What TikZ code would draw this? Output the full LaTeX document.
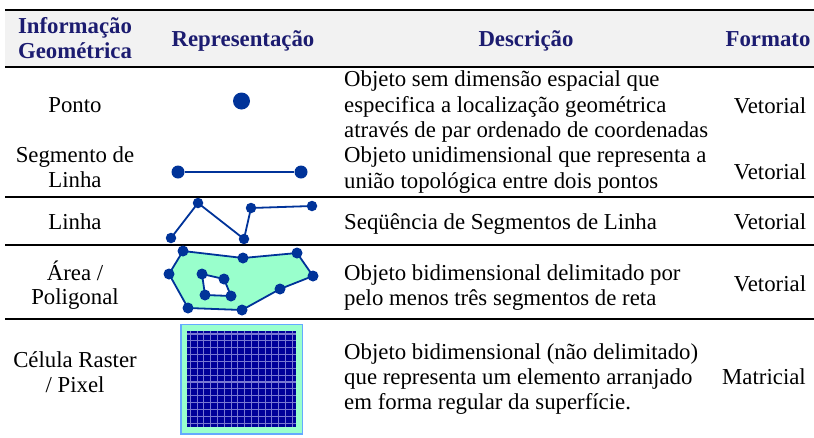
\documentclass[tikz,border=0pt]{standalone}
\usepackage{fontspec}
\setmainfont{Liberation Serif}
\definecolor{hdr}{RGB}{28,28,112}
\definecolor{dotblue}{RGB}{0,51,153}
\definecolor{mint}{RGB}{153,255,204}
\definecolor{hdrbg}{RGB}{242,242,242}
\definecolor{rasterblue}{RGB}{0,0,153}
\definecolor{gridline}{RGB}{120,120,210}
\definecolor{rasteredge}{RGB}{100,170,255}
\tikzset{
  txt/.style={inner sep=0pt, font=\fontsize{22.8}{25}\selectfont},
  hd/.style={inner sep=0pt, text=hdr, font=\fontsize{22.8}{25}\selectfont\bfseries},
  dot/.style={circle, fill=dotblue, inner sep=0pt, minimum size=#1},
  rulethick/.style={line width=2.6pt},
  rulethin/.style={line width=2pt},
  geo/.style={draw=dotblue, line width=1.8pt}
}
\begin{document}
\begin{tikzpicture}[x=1pt,y=-1pt]
\useasboundingbox (0,0) rectangle (814,437);
% header
\fill[hdrbg] (5,11) rectangle (814,66);
\draw[rulethick] (5,10) -- (814,10);
\draw[rulethick] (5,67) -- (814,67);
\node[hd, anchor=base] (h1a) at (75,33) {Informação};
\node[hd, anchor=base] (h1b) at (75,58) {Geométrica};
\node[hd, anchor=base] (h2) at (243,46) {Representação};
\node[hd, anchor=base] (h3) at (526,46) {Descrição};
\node[hd, anchor=base] (h4) at (768,46) {Formato};
% row rules
\draw[rulethin] (5,197) -- (814,197);
\draw[rulethin] (5,245) -- (814,245);
\draw[rulethin] (5,319) -- (814,319);
% row 1
\node[txt, anchor=base] (p1) at (75,112) {Ponto};
\node[txt, anchor=base west] (d1a) at (344,86.5) {Objeto sem dimensão espacial que};
\node[txt, anchor=base west] (d1b) at (344,112) {especifica a localização geométrica};
\node[txt, anchor=base west] (d1c) at (344,137) {através de par ordenado de coordenadas};
\node[txt, anchor=base] (f1) at (770,113) {Vetorial};
\node[dot=17pt] (pt) at (241.5,101) {};
% row 2
\node[txt, anchor=base] (s1a) at (75,162) {Segmento de};
\node[txt, anchor=base] (s1b) at (75,187) {Linha};
\node[txt, anchor=base west] (d2a) at (344,162.5) {Objeto unidimensional que representa a};
\node[txt, anchor=base west] (d2b) at (344,188) {união topológica entre dois pontos};
\node[txt, anchor=base] (f2) at (770,179) {Vetorial};
\node[dot=13pt] (sa) at (178,172) {};
\node[dot=13pt] (sb) at (301,172) {};
\draw[dotblue, line width=2.4pt] (sa) -- (sb);
% row 3
\node[txt, anchor=base] (l1) at (75,229) {Linha};
\node[txt, anchor=base west] (d3) at (344,229) {Seqüência de Segmentos de Linha};
\node[txt, anchor=base] (f3) at (770,229) {Vetorial};
\coordinate (la) at (171,238);
\coordinate (lb) at (198,203);
\coordinate (lc) at (244,239);
\coordinate (ld) at (251,208);
\coordinate (le) at (312,206);
\draw[geo] (la) -- (lb) -- (lc) -- (ld) -- (le);
\foreach \c in {la,lb,lc,ld,le} \node[dot=10.5pt] at (\c) {};
% row 4
\node[txt, anchor=base] (a1a) at (75,280) {Área /};
\node[txt, anchor=base] (a1b) at (75,304) {Poligonal};
\node[txt, anchor=base west] (d4a) at (344,280) {Objeto bidimensional delimitado por};
\node[txt, anchor=base west] (d4b) at (344,305) {pelo menos três segmentos de reta};
\node[txt, anchor=base] (f4) at (770,291) {Vetorial};
\coordinate (o1) at (183,251);
\coordinate (o2) at (243,258);
\coordinate (o3) at (297,253);
\coordinate (o4) at (313,276);
\coordinate (o5) at (280,289);
\coordinate (o6) at (242,310);
\coordinate (o7) at (188,308);
\coordinate (o8) at (169,274);
\coordinate (i1) at (202,274);
\coordinate (i2) at (224,279);
\coordinate (i3) at (231,296);
\coordinate (i4) at (205,295);
\filldraw[geo, fill=mint, even odd rule] (o1) -- (o2) -- (o3) -- (o4) -- (o5) -- (o6) -- (o7) -- (o8) -- cycle
  (i1) -- (i2) -- (i3) -- (i4) -- cycle;
\foreach \c in {o1,o2,o3,o4,o5,o6,o7,o8,i1,i2,i3,i4} \node[dot=11pt] at (\c) {};
% row 5
\node[txt, anchor=base] (c1a) at (75,367) {Célula Raster};
\node[txt, anchor=base] (c1b) at (75,392) {/ Pixel};
\node[txt, anchor=base west] (d5a) at (344,359) {Objeto bidimensional (não delimitado)};
\node[txt, anchor=base west] (d5b) at (344,384) {que representa um elemento arranjado};
\node[txt, anchor=base west] (d5c) at (344,409) {em forma regular da superfície.};
\node[txt, anchor=base] (f5) at (764,384) {Matricial};
\filldraw[fill=mint, draw=rasteredge, line width=1.2pt] (181,324.5) rectangle (302.5,434);
\fill[rasterblue] (187.3,330.7) rectangle (296,427.3);
\foreach \i in {0,...,15} \draw[gridline, line width=1.1pt] ({190.3+6.8*\i},330.7) -- ({190.3+6.8*\i},427.3);
\foreach \j in {0,...,13} \draw[gridline, line width=1.1pt] (187.3,{334+6.86*\j}) -- (296,{334+6.86*\j});
\end{tikzpicture}
\end{document}
